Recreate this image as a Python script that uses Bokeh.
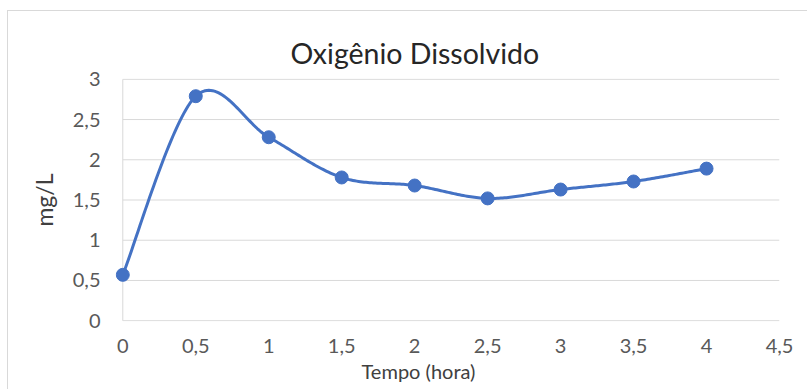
import numpy as np
from bokeh.plotting import figure
from bokeh.models import Range1d, FixedTicker, Title
from bokeh.embed import file_html
from bokeh.resources import INLINE

# --- data ---------------------------------------------------------------
title_text = "Oxigênio Dissolvido"
x_title = "Tempo (hora)"
y_title = "mg/L"

tempo = [0, 0.5, 1, 1.5, 2, 2.5, 3, 3.5, 4]
oxigenio = [0.57, 2.79, 2.28, 1.78, 1.68, 1.52, 1.63, 1.73, 1.89]

x_ticks = [0, 0.5, 1, 1.5, 2, 2.5, 3, 3.5, 4, 4.5]
x_tick_labels = ["0", "0,5", "1", "1,5", "2", "2,5", "3", "3,5", "4", "4,5"]
y_ticks = [0, 0.5, 1, 1.5, 2, 2.5, 3]
y_tick_labels = ["0", "0,5", "1", "1,5", "2", "2,5", "3"]

BLUE = "#4472C4"
GRID = "#D9D9D9"
FONT = "Lato"


def smooth(xs, ys, steps=40):
    """Cubic Bezier (Catmull-Rom tangents) through every point."""
    pts = np.column_stack([xs, ys]).astype(float)
    n = len(pts)
    out = [pts[0]]
    t = np.linspace(0, 1, steps)[1:, None]
    for i in range(n - 1):
        p0 = pts[i - 1] if i > 0 else pts[i]
        p1 = pts[i]
        p2 = pts[i + 1]
        p3 = pts[i + 2] if i + 2 < n else pts[i + 1]
        c1 = p1 + (p2 - p0) / 6.0
        c2 = p2 - (p3 - p1) / 6.0
        seg = ((1 - t) ** 3) * p1 + 3 * ((1 - t) ** 2) * t * c1 \
            + 3 * (1 - t) * (t ** 2) * c2 + (t ** 3) * p2
        out.extend(seg)
    out = np.array(out)
    return out[:, 0], out[:, 1]


p = figure(
    width=800, height=379,
    x_range=Range1d(-0.05, x_ticks[-1]),
    y_range=Range1d(-0.01, 3.01),
    output_backend="svg", toolbar_location=None,
    min_border_left=107, min_border_right=29,
    min_border_top=67, min_border_bottom=69,
    margin=(10, 0, 0, 7),
)
p.styles = {"border-top": f"1px solid {GRID}", "border-left": f"1px solid {GRID}"}
p.outline_line_color = None
p.xgrid.visible = False
p.ygrid.visible = False
p.background_fill_color = "white"
p.border_fill_color = "white"

# horizontal gridlines from the value axis to the last category tick
p.segment(x0=[x_ticks[0]] * len(y_ticks), y0=y_ticks,
          x1=[x_ticks[-1]] * len(y_ticks), y1=y_ticks,
          line_color=GRID, line_width=1)
# vertical value-axis line at x = 0
p.segment(x0=[x_ticks[0]], y0=[y_ticks[0]], x1=[x_ticks[0]], y1=[y_ticks[-1]],
          line_color=GRID, line_width=1)

for ax, ticks, labels in ((p.xaxis, x_ticks, x_tick_labels),
                          (p.yaxis, y_ticks, y_tick_labels)):
    ax.ticker = FixedTicker(ticks=ticks)
    ax.major_label_overrides = {float(k): v for k, v in zip(ticks, labels)}
    ax.axis_line_color = None
    ax.major_tick_line_color = None
    ax.minor_tick_line_color = None
    ax.major_tick_out = 0
    ax.major_tick_in = 0
    ax.minor_tick_out = 0
    ax.major_label_text_font = FONT
    ax.major_label_text_font_size = "20px"
    ax.major_label_text_color = "#595959"
p.xaxis.major_label_standoff = 17
p.yaxis.major_label_standoff = 15

# value-axis title
p.yaxis.axis_label = y_title
p.yaxis.axis_label_text_font = FONT
p.yaxis.axis_label_text_font_size = "23px"
p.yaxis.axis_label_text_font_style = "normal"
p.yaxis.axis_label_text_color = "#404040"
p.yaxis.axis_label_standoff = 12

# chart title, drawn in the panel above the plot area
p.add_layout(Title(text=title_text, align="left", offset=175, standoff=18,
                   text_font=FONT, text_font_size="28.5px",
                   text_font_style="normal", text_color="#262626"), "above")

# horizontal-axis title, drawn in the panel below the tick labels
p.add_layout(Title(text=x_title, align="left", offset=246, standoff=3,
                   text_font=FONT, text_font_size="20px",
                   text_font_style="normal", text_color="#404040"), "below")

# smoothed series line with markers
sx, sy = smooth(tempo, oxigenio)
p.line(sx, sy, line_color=BLUE, line_width=3, line_cap="round", line_join="round")
p.scatter(tempo, oxigenio, size=13, fill_color=BLUE, line_color=BLUE)

open("out.html", "w").write(file_html(p, INLINE))
